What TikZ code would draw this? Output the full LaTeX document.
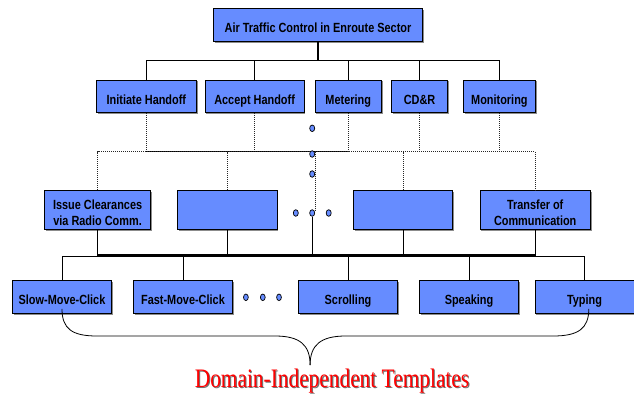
\documentclass[tikz,border=0pt]{standalone}
\usepackage{fontspec}
\usepackage{tikz}
\usetikzlibrary{calc,shapes.geometric,shadows}
\newfontfamily\boxfont[FakeStretch=0.82]{Liberation Sans}
\newfontfamily\capfont[FakeStretch=0.8]{Liberation Serif}
\definecolor{boxblue}{RGB}{102,140,255}

\begin{document}
\begin{tikzpicture}[x=1pt,y=-1pt,
    task/.style={draw, line width=0.9pt, fill=boxblue, inner sep=0pt,
      minimum width=#1, minimum height=32.7pt, align=center,
      text height=15.8pt, text depth=0pt,
      font=\boxfont\bfseries\fontsize{13.3}{16}\selectfont,
      drop shadow={shadow xshift=1.3pt,shadow yshift=-1.3pt,fill=black!45,opacity=1}},
    tall/.style={minimum height=39pt, text height=30.4pt, text depth=0pt},
    dot/.style={ellipse, draw, line width=0.7pt, fill=boxblue, inner sep=0pt,
      minimum width=5pt, minimum height=6.6pt},
    link/.style={line width=0.8pt},
    dots/.style={line width=0.8pt, dash pattern=on 1pt off 1pt, black!85},
    caption/.style={anchor=base, font=\capfont\fontsize{26.7}{30}\selectfont}]
    \useasboundingbox (0,0) rectangle (634,394);

    \node[task=209pt, minimum height=33.4pt] (atc) at (318,25) {Air Traffic Control in Enroute Sector};

    \node[task=100.3pt] (ih) at (146.4,96.3) {Initiate Handoff};
    \node[task=99pt] (ah) at (254.6,96.3) {Accept Handoff};
    \node[task=66.3pt] (met) at (348.2,96.3) {Metering};
    \node[task=55.4pt] (cdr) at (419.5,96.3) {CD\&R};
    \node[task=72pt] (mon) at (499.4,96.3) {Monitoring};

    \node[task=105.5pt, tall] (ic) at (97.6,209.8) {Issue Clearances\\via Radio Comm.};
    \node[task=99.5pt, tall] (b1) at (227.3,209.8) {};
    \node[task=99pt, tall] (b2) at (403,209.8) {};
    \node[task=110.4pt, tall] (tc) at (535.2,209.8) {Transfer of\\Communication};

    \node[task=99pt] (smc) at (62,297) {Slow-Move-Click};
    \node[task=99pt] (fmc) at (183,297) {Fast-Move-Click};
    \node[task=99pt] (scr) at (348,297) {Scrolling};
    \node[task=99.5pt] (spk) at (469,297) {Speaking};
    \node[task=99pt] (typ) at (584.5,297) {Typing};

    \coordinate (bus1) at (318,60.7);
    \coordinate (bus2) at (315.3,151.6);
    \coordinate (bus3) at (312.2,254.8);
    \coordinate (bus4) at (312.2,256.3);

    \draw[line width=1.6pt] (atc) -- (bus1);
    \draw[link] (ih.north) -- (ih.north |- bus1) -- (mon.north |- bus1) -- (mon.north);
    \foreach \n in {ah,met,cdr}
        \draw[link] (\n.north) -- (\n.north |- bus1);

    \foreach \n in {ih,ah,met,cdr,mon}
        \draw[dots] (\n.south) -- (\n.south |- bus2);
    \draw[link] (ih.south |- bus2) -- (met.south |- bus2);
    \draw[dots] (ic.north) -- (ic.north |- bus2) -- (tc.north |- bus2) -- (tc.north);
    \foreach \n in {b1,b2}
        \draw[dots] (\n.north) -- (\n.north |- bus2);
    \draw[dots] (bus2) -- (315.3,210);

    \node[dot] (d1) at (312.2,128.3) {};
    \node[dot] (d2) at (312.2,154) {};
    \node[dot] (d3) at (312.2,174) {};
    \node[dot] (d4) at (295.8,213) {};
    \node[dot] (d5) at (312.2,213) {};
    \node[dot] (d6) at (328.7,213) {};

    \draw[line width=1.4pt] (ic.south) -- (ic.south |- bus3) -- (tc.south |- bus3) -- (tc.south);
    \foreach \n in {b1,b2}
        \draw[link] (\n.south) -- (\n.south |- bus3);
    \draw[link] (d5.south) -- (bus3);

    \draw[link] (smc.north) -- (smc.north |- bus4) -- (typ.north |- bus4) -- (typ.north);
    \foreach \n in {fmc,scr,spk}
        \draw[link] (\n.north) -- (\n.north |- bus4);

    \node[dot, minimum width=4.8pt] (e1) at (245.9,297.3) {};
    \node[dot, minimum width=4.8pt] (e2) at (262.8,297.3) {};
    \node[dot, minimum width=4.8pt] (e3) at (279,297.3) {};

    \coordinate (tip) at (310.1,365);
    \draw[link] ([yshift=5pt]smc.south) .. controls +(0,20) and +(-25,0) .. (97,336)
        -- (275,336) .. controls +(25,0) and +(0,-20) .. (tip);
    \draw[link] ([shift={(4.3pt,5pt)}]typ.south) .. controls +(0,20) and +(25,0) .. (553,336)
        -- (345.7,336) .. controls +(-25,0) and +(0,-20) .. (tip);

    \node[caption, text=black!55] at (333.1,388.1) {Domain-Independent Templates};
    \node[caption, text=red] (dit) at (332,387) {Domain-Independent Templates};
\end{tikzpicture}
\end{document}
